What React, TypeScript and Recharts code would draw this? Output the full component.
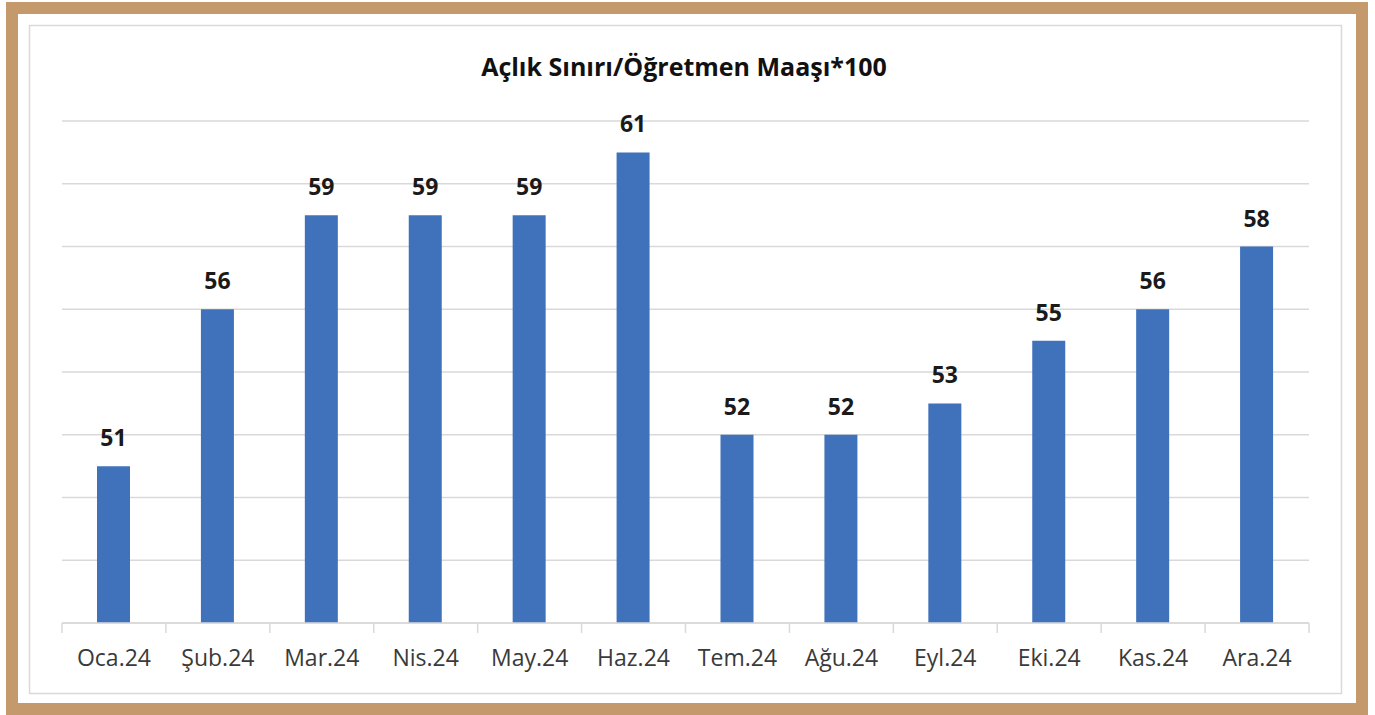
import { BarChart, Bar, XAxis, YAxis, CartesianGrid, LabelList } from 'recharts';

const months = ['Oca.24', 'Şub.24', 'Mar.24', 'Nis.24', 'May.24', 'Haz.24', 'Tem.24', 'Ağu.24', 'Eyl.24', 'Eki.24', 'Kas.24', 'Ara.24'];
const ratios = [51, 56, 59, 59, 59, 61, 52, 52, 53, 55, 56, 58];
const yTicks = [46, 48, 50, 52, 54, 56, 58, 60, 62];
const title = 'Açlık Sınırı/Öğretmen Maaşı*100';

const W = 1375;
const H = 715;
const M = { top: 121, right: 66, bottom: 32, left: 62 };
const BAND = (W - M.left - M.right) / months.length;

const data = months.map((m, i) => ({ name: m, value: ratios[i] }));

const FONT = '"Open Sans", "Noto Sans", sans-serif';

// category ticks sit between bars like in Excel, so draw them by hand
function MonthTick(props: any) {
  const { x, y, payload, index } = props;
  const last = index === months.length - 1;
  return (
    <g>
      <line x1={x - BAND / 2} x2={x - BAND / 2} y1={y} y2={y + 10} stroke="#d9d9d9" strokeWidth={1.5} />
      {last && <line x1={x + BAND / 2} x2={x + BAND / 2} y1={y} y2={y + 10} stroke="#d9d9d9" strokeWidth={1.5} />}
      <text x={x} y={y + 43} textAnchor="middle" fill="#3a3a3a" fontSize={23} fontFamily={FONT}>
        {payload.value}
      </text>
    </g>
  );
}

export default function App() {
  return (
    <div style={{ position: 'absolute', left: 0, top: 0, width: W, height: H, background: '#fff', fontFamily: FONT }}>
      <svg width={W} height={H} style={{ position: 'absolute', left: 0, top: 0 }}>
        <rect x={12} y={8} width={1350} height={701} fill="none" stroke="#c4996b" strokeWidth={12} />
        <rect x={29.5} y={25.5} width={1312} height={668} fill="none" stroke="#d9d9d9" strokeWidth={1.5} />
        <text x={684} y={76} textAnchor="middle" fontSize={25} fontWeight={700} fill="#111" fontFamily={FONT}>
          {title}
        </text>
      </svg>
      <div style={{ position: 'absolute', left: 0, top: 0 }}>
        <BarChart width={W} height={H} data={data} margin={M}>
          <CartesianGrid vertical={false} stroke="#d9d9d9" strokeWidth={1.5} />
          <YAxis hide domain={[46, 62]} ticks={yTicks} />
          <XAxis
            dataKey="name"
            height={60}
            axisLine={{ stroke: '#d9d9d9', strokeWidth: 1.5 }}
            tickLine={false}
            tickSize={0}
            tickMargin={0}
            interval={0}
            tick={<MonthTick />}
          />
          <Bar dataKey="value" fill="#4071bb" barSize={33} isAnimationActive={false}>
            <LabelList
              dataKey="value"
              position="top"
              offset={20}
              fill="#1a1a1a"
              fontSize={23}
              fontWeight={700}
              fontFamily={FONT}
            />
          </Bar>
        </BarChart>
      </div>
    </div>
  );
}
